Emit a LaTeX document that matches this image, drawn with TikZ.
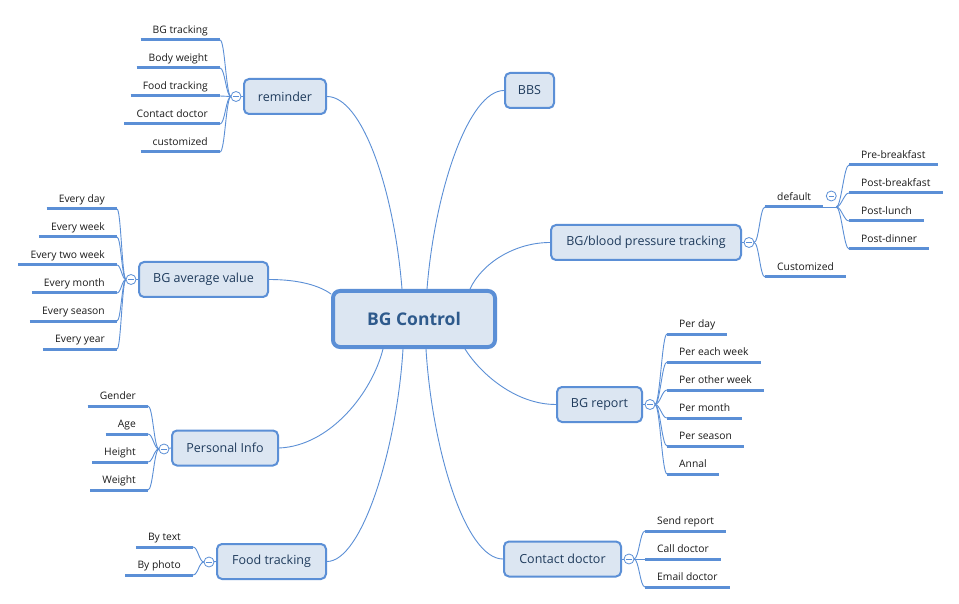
\documentclass[tikz,border=0pt]{standalone}
\usepackage{fontspec}
\setmainfont{Open Sans}
\usetikzlibrary{calc}
\definecolor{bd}{HTML}{5B8FD6}
\definecolor{fl}{HTML}{DCE6F2}
\definecolor{tx}{HTML}{1F3B5C}
\definecolor{ct}{HTML}{2E5A8C}
\definecolor{lf}{HTML}{1A1A1A}
\newcommand{\mmleaf}[4]{\node[leaf,anchor=#2] (#1) at #3 {#4}; \draw[leafline] (#1.south west) -- (#1.south east);}
\begin{document}
\begin{tikzpicture}[x=1pt,y=-1pt,
  topic/.style={draw=bd, fill=fl, line width=2pt, rounded corners=5pt, text=tx,
    font=\fontsize{12.5}{14}\selectfont, minimum height=35pt, inner xsep=0pt},
  central/.style={draw=bd, fill=fl, line width=4pt, rounded corners=7pt, text=ct,
    font=\fontsize{17.5}{20}\selectfont\bfseries, minimum width=162pt, minimum height=56pt},
  leaf/.style={inner xsep=12pt, inner ysep=0pt, text height=8pt, text depth=6.5pt,
    font=\fontsize{10.3}{12}\selectfont, text=lf},
  leafline/.style={draw=bd, line width=3pt},
  conn/.style={draw=bd, line width=0.9pt},
  coll/.style={circle, draw=bd, fill=white, line width=0.8pt, minimum size=10pt, inner sep=0pt,
    path picture={\draw[bd, line width=0.7pt] ([xshift=-2.6pt]path picture bounding box.center) -- ([xshift=2.6pt]path picture bounding box.center);}}
]
\useasboundingbox[fill=white] (0,0) rectangle (959,604);

% central and main topics
\node[central] (ctr) at (414,319) {BG Control};
\node[topic, minimum width=82pt] (rem) at (285,96.5) {reminder};
\node[topic, minimum width=49pt] (bbs) at (529.5,90.5) {BBS};
\node[topic, minimum width=190pt] (bgb) at (646,242.5) {BG/blood pressure tracking};
\node[topic, minimum width=85pt] (bgr) at (599.5,404.5) {BG report};
\node[topic, minimum width=117pt] (cdr) at (562.5,559) {Contact doctor};
\node[topic, minimum width=109pt] (fdt) at (271.5,561.5) {Food tracking};
\node[topic, minimum width=106pt] (pin) at (225,448) {Personal Info};
\node[topic, minimum width=129pt] (bga) at (203.5,279.5) {BG average value};

% main connectors
\draw[conn] (rem.east) .. controls +(35,0) and +(-8,-100) .. ($(ctr.north)+(-12,0)$);
\draw[conn] (bbs.west) .. controls +(-35,0) and +(8,-100) .. ($(ctr.north)+(13,0)$);
\draw[conn] (bgb.west) .. controls +(-35,0) and +(12,-26) .. ($(ctr.north)+(56,0)$);
\draw[conn] (bga.east) .. controls +(31,0) and +(-11,-8) .. ($(ctr.west)+(0,-25)$);
\draw[conn] ($(ctr.south)+(51,0)$) .. controls +(15,24) and +(-41,0) .. (bgr.west);
\draw[conn] ($(ctr.south)+(12,0)$) .. controls +(6,99) and +(-38,0) .. (cdr.west);
\draw[conn] ($(ctr.south)+(-11,0)$) .. controls +(-6,99) and +(35,0) .. (fdt.east);
\draw[conn] ($(ctr.south)+(-31,0)$) .. controls +(-11,44) and +(51,-2) .. (pin.east);

% collapse circles positions
\coordinate (kR) at ($(rem.west)+(-7,0)$);
\coordinate (kA) at ($(bga.west)+(-7,0)$);
\coordinate (kP) at ($(pin.west)+(-7,1)$);
\coordinate (kF) at ($(fdt.west)+(-7,0.5)$);
\coordinate (kB) at ($(bgb.east)+(7,0)$);
\coordinate (kG) at ($(bgr.east)+(7,0)$);
\coordinate (kC) at ($(cdr.east)+(7,0)$);

% leaves: reminder
\mmleaf{r1}{south east}{(220,40)}{BG tracking}
\mmleaf{r2}{south east}{(220,68)}{Body weight}
\mmleaf{r3}{south east}{(220,96)}{Food tracking}
\mmleaf{r4}{south east}{(220,124)}{Contact doctor}
\mmleaf{r5}{south east}{(220,152)}{customized}
% BG average value
\mmleaf{a1}{south east}{(117,209)}{Every day}
\mmleaf{a2}{south east}{(117,237)}{Every week}
\mmleaf{a3}{south east}{(117,265)}{Every two week}
\mmleaf{a4}{south east}{(117,293)}{Every month}
\mmleaf{a5}{south east}{(117,321)}{Every season}
\mmleaf{a6}{south east}{(117,349)}{Every year}
% Personal Info
\mmleaf{p1}{south east}{(148,406)}{Gender}
\mmleaf{p2}{south east}{(148,434)}{Age}
\mmleaf{p3}{south east}{(148,462)}{Height}
\mmleaf{p4}{south east}{(148,490)}{Weight}
% Food tracking
\mmleaf{f1}{south east}{(193,547)}{By text}
\mmleaf{f2}{south east}{(193,575)}{By photo}
% BG/blood pressure tracking
\mmleaf{b1}{south west}{(765,207)}{default}
\mmleaf{b2}{south west}{(765,277)}{Customized}
\mmleaf{d1}{south west}{(849,165)}{Pre-breakfast}
\mmleaf{d2}{south west}{(849,193)}{Post-breakfast}
\mmleaf{d3}{south west}{(849,221)}{Post-lunch}
\mmleaf{d4}{south west}{(849,249)}{Post-dinner}
% BG report
\mmleaf{g1}{south west}{(667,334)}{Per day}
\mmleaf{g2}{south west}{(667,362)}{Per each week}
\mmleaf{g3}{south west}{(667,390)}{Per other week}
\mmleaf{g4}{south west}{(667,418)}{Per month}
\mmleaf{g5}{south west}{(667,446)}{Per season}
\mmleaf{g6}{south west}{(667,474)}{Annal}
% Contact doctor
\mmleaf{c1}{south west}{(645,531)}{Send report}
\mmleaf{c2}{south west}{(645,559)}{Call doctor}
\mmleaf{c3}{south west}{(645,587)}{Email doctor}

% branch connectors
\coordinate (dB) at ($(b1.south east)+(13,0)$);
\draw[conn] (b1.south east) -- (dB);
\draw[conn] (rem.west) -- (kR);
\draw[conn] (bga.west) -- (kA);
\draw[conn] (pin.west) -- (kP);
\draw[conn] (fdt.west) -- (kF);
\draw[conn] (bgb.east) -- (kB);
\draw[conn] (bgr.east) -- (kG);
\draw[conn] (cdr.east) -- (kC);
\foreach \n in {r1,r2,r3,r4,r5}
  \draw[conn] ($(kR)+(-5,0)$) .. controls +(-5,0) and +(5,0) .. (\n.south east);
\foreach \n in {a1,a2,a3,a4,a5,a6}
  \draw[conn] ($(kA)+(-5,0)$) .. controls +(-4,0) and +(4,0) .. (\n.south east);
\foreach \n in {p1,p2,p3,p4}
  \draw[conn] ($(kP)+(-5,0)$) .. controls +(-5,0) and +(5,0) .. (\n.south east);
\foreach \n in {f1,f2}
  \draw[conn] ($(kF)+(-5,0)$) .. controls +(-5,0) and +(5,0) .. (\n.south east);
\foreach \n in {b1,b2}
  \draw[conn] ($(kB)+(5,0)$) .. controls +(5,0) and +(-5,0) .. (\n.south west);
\foreach \n in {d1,d2,d3,d4}
  \draw[conn] (dB) .. controls +(5,0) and +(-5,0) .. (\n.south west);
\foreach \n in {g1,g2,g3,g4,g5,g6}
  \draw[conn] ($(kG)+(5,0)$) .. controls +(5,0) and +(-5,0) .. (\n.south west);
\foreach \n in {c1,c2,c3}
  \draw[conn] ($(kC)+(5,0)$) .. controls +(5,0) and +(-5,0) .. (\n.south west);

% collapse circles
\node[coll] (oR) at (kR) {};
\node[coll] (oA) at (kA) {};
\node[coll] (oP) at (kP) {};
\node[coll] (oF) at (kF) {};
\node[coll] (oB) at (kB) {};
\node[coll] (oG) at (kG) {};
\node[coll] (oC) at (kC) {};
\node[coll] (oD) at ($(dB)+(-5,-11)$) {};
\end{tikzpicture}
\end{document}
